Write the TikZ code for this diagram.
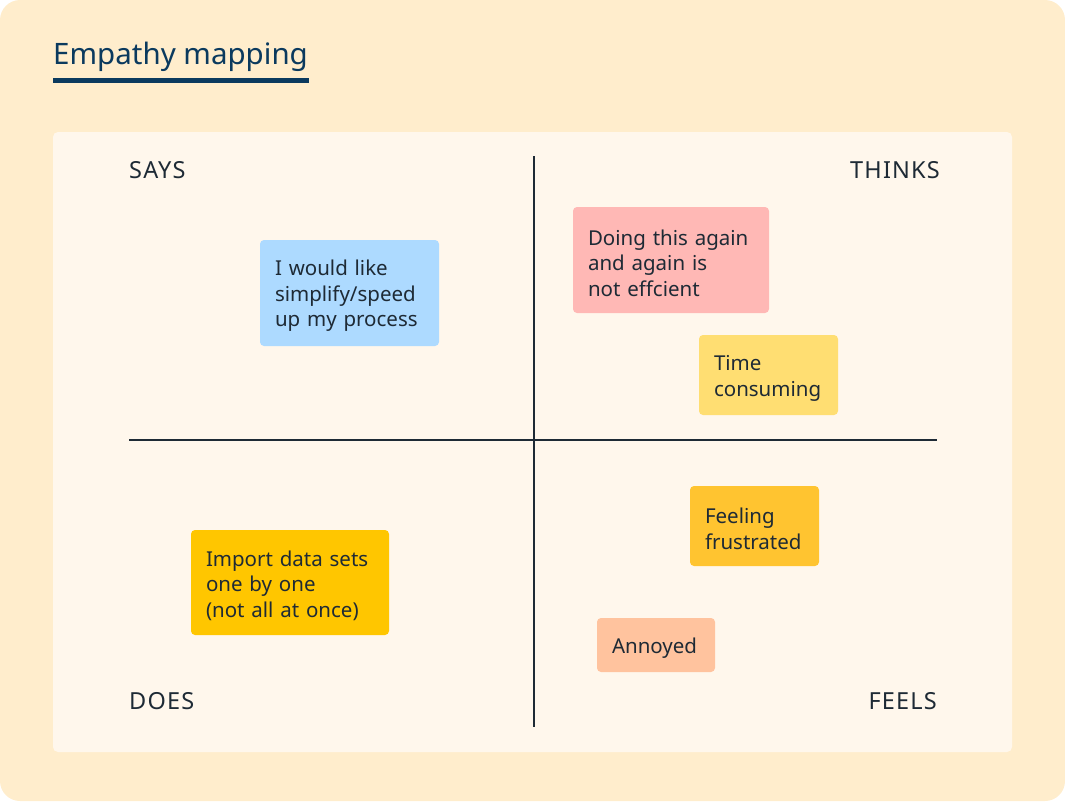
\documentclass[tikz,border=0pt]{standalone}
\usepackage{fontspec}
\setmainfont{Noto Sans}
\definecolor{outerbg}{HTML}{FFEDCC}
\definecolor{innerbg}{HTML}{FFF7EC}
\definecolor{titleblue}{HTML}{0B3A5E}
\definecolor{ink}{HTML}{1E2A35}
\definecolor{cblue}{HTML}{ADDAFF}
\definecolor{cpink}{HTML}{FFB8B5}
\definecolor{cyellow}{HTML}{FFDE72}
\definecolor{cgold}{HTML}{FFC600}
\definecolor{corange}{HTML}{FFC430}
\definecolor{cpeach}{HTML}{FFC39E}
\newcommand{\topstrut}{\rule{0pt}{21.5pt}}
\tikzset{
  sticky/.style={rectangle, rounded corners=4pt, align=left, text=ink,
    font=\fontsize{20.5}{25.5}\selectfont, inner xsep=15pt, inner ysep=0pt},
  quad/.style={text=ink, font=\fontsize{23.5}{28}\selectfont\addfontfeature{LetterSpace=5}, inner sep=0pt},
  axis/.style={draw=ink, line width=2.5pt}
}
\begin{document}
\begin{tikzpicture}[x=1pt,y=-1pt]
\useasboundingbox (0,0) rectangle (1065,801);
\fill[outerbg, rounded corners=20pt] (0,0) rectangle (1065,801);
\fill[innerbg, rounded corners=5pt] (53,132) rectangle (1012,752);
% title
\node[anchor=base west, text=titleblue, font=\fontsize{29.5}{34}\selectfont, inner sep=0pt] (title) at (53,64) {Empathy mapping};
\fill[titleblue] (53,78) rectangle (309,83);
% axes
\coordinate (vt) at (534,156);
\coordinate (vb) at (534,727);
\coordinate (hl) at (129,440);
\coordinate (hr) at (937,440);
\draw[axis] (vt) -- (vb);
\draw[axis] (hl) -- (hr);
% quadrant labels
\node[quad, anchor=base west] (says) at (129,178) {SAYS};
\node[quad, anchor=base east] (thinks) at (940,178) {THINKS};
\node[quad, anchor=base west] (does) at (129,709) {DOES};
\node[quad, anchor=base east] (feels) at (937,709) {FEELS};
% stickies
\node[sticky, fill=cblue, text width=149pt, minimum height=106pt] (n1) at (349.5,293) {\topstrut I would like\\simplify/speed\\up my process};
\node[sticky, fill=cpink, text width=166pt, minimum height=106pt] (n2) at (671,260) {\topstrut Doing this again\\and again is\\not effcient};
\node[sticky, fill=cyellow, text width=109pt, minimum height=80pt] (n3) at (768.5,375) {\topstrut Time\\consuming};
\node[sticky, fill=cgold, text width=168pt, minimum height=105pt] (n4) at (290,582.5) {\topstrut Import data sets\\one by one\\(not all at once)};
\node[sticky, fill=corange, text width=99pt, minimum height=80pt] (n5) at (754.5,526) {\topstrut Feeling\\frustrated};
\node[sticky, fill=cpeach, text width=88pt, minimum height=54pt] (n6) at (656,645) {\topstrut Annoyed};
\end{tikzpicture}
\end{document}
